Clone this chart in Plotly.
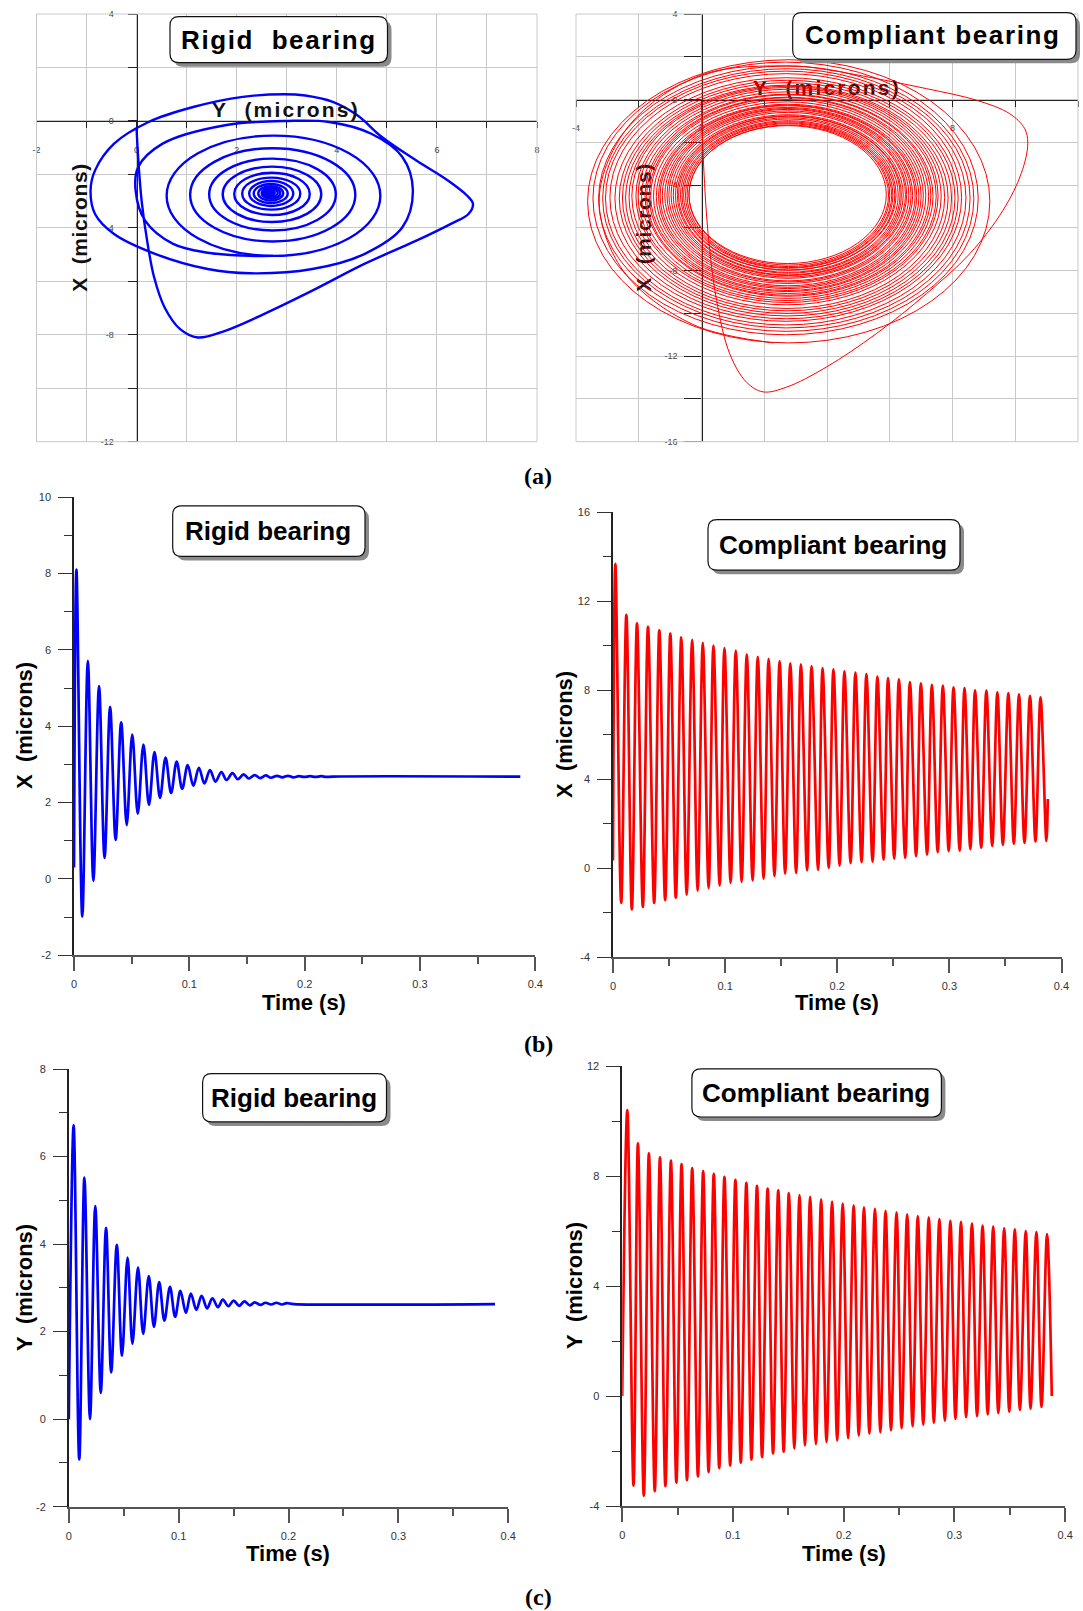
import plotly.graph_objects as go

W, H = 1083, 1611

# ------------------------------------------------------------------
# DATA
# ------------------------------------------------------------------
# Rigid bearing, X(t): start, peaks, troughs, end   (time s, microns)
rx_start = (0.0, 0.3)
rx_peak_t = [0.0021, 0.0120, 0.0217, 0.0313, 0.0409, 0.0505, 0.0602, 0.0698, 0.0794, 0.0890,
             0.0986, 0.1083, 0.1179, 0.1278, 0.1374, 0.1471, 0.1567, 0.1663, 0.1759, 0.1856,
             0.1952, 0.2048, 0.2144, 0.2241]
rx_peak = [8.1, 5.71, 5.05, 4.51, 4.1, 3.78, 3.52, 3.32, 3.18, 3.07,
           2.98, 2.91, 2.85, 2.8, 2.77, 2.74, 2.72, 2.71, 2.70, 2.70,
           2.69, 2.69, 2.69, 2.68]
rx_trough_t = [0.0072, 0.0168, 0.0265, 0.0361, 0.0457, 0.0553, 0.0650, 0.0746, 0.0842, 0.0938,
               0.1035, 0.1131, 0.1227, 0.1323, 0.1420, 0.1516, 0.1612, 0.1708, 0.1805, 0.1901,
               0.1997, 0.2093, 0.2190]
rx_trough = [-0.99, -0.05, 0.55, 1.02, 1.41, 1.71, 1.94, 2.12, 2.25, 2.36,
             2.44, 2.5, 2.55, 2.59, 2.61, 2.63, 2.64, 2.65, 2.66, 2.66,
             2.67, 2.67, 2.67]
rx_end = (0.387, 2.68)

# Rigid bearing, Y(t)
ry_start = (0.0, 0.0)
ry_peak_t = [0.0044, 0.0142, 0.0241, 0.0339, 0.0437, 0.0535, 0.0630, 0.0728, 0.0823, 0.0921,
             0.1016, 0.1111, 0.1209, 0.1307, 0.1402, 0.1500, 0.1598, 0.1693, 0.1790, 0.1889,
             0.1984]
ry_peak = [6.71, 5.52, 4.87, 4.37, 3.98, 3.69, 3.46, 3.27, 3.13, 3.02,
           2.93, 2.87, 2.82, 2.76, 2.73, 2.71, 2.69, 2.67, 2.66, 2.66,
           2.65]
ry_trough_t = [0.0095, 0.0193, 0.0291, 0.0386, 0.0484, 0.0579, 0.0677, 0.0775, 0.0870, 0.0968,
               0.1066, 0.1161, 0.1259, 0.1358, 0.1453, 0.1551, 0.1649, 0.1744, 0.1842, 0.1940]
ry_trough = [-0.92, 0.0, 0.6, 1.07, 1.45, 1.72, 1.95, 2.11, 2.25, 2.34,
             2.43, 2.5, 2.53, 2.56, 2.58, 2.59, 2.6, 2.61, 2.62, 2.62]
ry_steady = (0.205, 2.63)
ry_end = (0.388, 2.63)

# Compliant bearing, X(t)
cx_start = (0.0, 0.34)
cx_peak_t = [0.0021, 0.0119, 0.0214, 0.0312, 0.0413, 0.0511, 0.0609, 0.0706, 0.0801, 0.0896,
             0.0994, 0.1095, 0.1193, 0.1291, 0.1388, 0.1486, 0.1581, 0.1676, 0.1771, 0.1869,
             0.1966, 0.2064, 0.2162, 0.2260, 0.2358, 0.2453, 0.2550, 0.2648, 0.2746, 0.2844,
             0.2942, 0.3037, 0.3135, 0.3229, 0.3330, 0.3428, 0.3526, 0.3621, 0.3719, 0.3813]
cx_peak = [13.67, 11.38, 11.0, 10.84, 10.68, 10.54, 10.37, 10.25, 10.12, 10.0,
           9.88, 9.77, 9.6, 9.49, 9.4, 9.3, 9.2, 9.15, 9.07, 8.98,
           8.93, 8.84, 8.78, 8.71, 8.6, 8.53, 8.48, 8.36, 8.3, 8.23,
           8.2, 8.12, 8.08, 7.98, 7.97, 7.89, 7.86, 7.81, 7.74, 7.67]
cx_trough_t = [0.0073, 0.0168, 0.0266, 0.0367, 0.0465, 0.0560, 0.0657, 0.0755, 0.0853, 0.0951,
               0.1049, 0.1147, 0.1245, 0.1343, 0.1440, 0.1535, 0.1633, 0.1731, 0.1829, 0.1924,
               0.2021, 0.2119, 0.2217, 0.2315, 0.2413, 0.2508, 0.2606, 0.2703, 0.2801, 0.2896,
               0.2994, 0.3092, 0.3187, 0.3284, 0.3382, 0.3477, 0.3575, 0.3670, 0.3768, 0.3865]
cx_trough = [-1.57, -1.86, -1.75, -1.57, -1.44, -1.33, -1.21, -1.02, -0.9, -0.79,
             -0.67, -0.62, -0.56, -0.48, -0.36, -0.25, -0.22, -0.11, -0.08, 0.0,
             0.11, 0.22, 0.26, 0.29, 0.37, 0.42, 0.46, 0.53, 0.6, 0.71,
             0.76, 0.78, 0.85, 0.91, 0.99, 1.04, 1.09, 1.13, 1.19, 1.22]
cx_end = (0.3878, 3.1)

# Compliant bearing, Y(t)
cy_start = (0.0, 0.0)
cy_peak_t = [0.0046, 0.0142, 0.0241, 0.0341, 0.0440, 0.0536, 0.0632, 0.0731, 0.0827, 0.0923,
             0.1022, 0.1121, 0.1217, 0.1313, 0.1409, 0.1505, 0.1601, 0.1697, 0.1796, 0.1895,
             0.1991, 0.2090, 0.2183, 0.2282, 0.2378, 0.2477, 0.2573, 0.2669, 0.2768, 0.2864,
             0.2963, 0.3059, 0.3158, 0.3254, 0.3350, 0.3449, 0.3545, 0.3644, 0.3740, 0.3836]
cy_peak = [10.4, 9.19, 8.82, 8.68, 8.56, 8.43, 8.29, 8.18, 8.08, 7.97,
           7.86, 7.75, 7.64, 7.54, 7.48, 7.38, 7.31, 7.24, 7.15, 7.07,
           7.0, 6.93, 6.86, 6.81, 6.73, 6.68, 6.61, 6.54, 6.5, 6.43,
           6.37, 6.33, 6.27, 6.2, 6.16, 6.1, 6.06, 6.0, 5.96, 5.89]
cy_trough_t = [0.0102, 0.0195, 0.0294, 0.0390, 0.0489, 0.0585, 0.0684, 0.0780, 0.0876, 0.0975,
               0.1071, 0.1167, 0.1263, 0.1362, 0.1458, 0.1554, 0.1650, 0.1749, 0.1845, 0.1941,
               0.2040, 0.2136, 0.2232, 0.2331, 0.2427, 0.2523, 0.2622, 0.2718, 0.2814, 0.2913,
               0.3009, 0.3105, 0.3204, 0.3300, 0.3396, 0.3495, 0.3591, 0.3687, 0.3786]
cy_trough = [-3.26, -3.63, -3.46, -3.28, -3.15, -3.06, -2.92, -2.76, -2.62, -2.52,
             -2.42, -2.31, -2.22, -2.09, -2.02, -1.91, -1.8, -1.75, -1.67, -1.62,
             -1.53, -1.44, -1.37, -1.32, -1.25, -1.17, -1.1, -1.04, -0.97, -0.9,
             -0.83, -0.77, -0.73, -0.67, -0.62, -0.57, -0.51, -0.46, -0.4]
cy_end = (0.3879, 0.0)

# Orbit (a): opening loops  (Y, X as plotted)
orbit_r_open_y = [0.0, 0.03, 0.1, 0.21, 0.35, 0.56, 0.87, 1.22, 1.77, 2.47, 3.51, 4.55, 5.59, 6.28,
                  6.63, 6.72, 6.6, 6.22, 5.59, 4.9, 4.41, 3.92, 3.37, 2.95, 2.12, 1.15, 0.24, -0.45,
                  -0.83, -0.92, -0.83, -0.45, 0.38, 1.42, 2.26, 3.51, 4.55, 5.31, 5.52, 5.31, 4.69,
                  3.85, 3.02, 1.77, 0.52, 0.03, -0.02, 0.17, 0.73, 1.42, 2.12, 2.73]
orbit_r_open_x = [-0.29, -1.35, -2.98, -4.48, -5.85, -6.98, -7.79, -8.1, -7.85, -7.29, -6.35, -5.35,
                  -4.48, -3.85, -3.48, -3.1, -2.79, -2.23, -1.48, -0.6, 0.21, 0.71, 0.95, 1.0, 0.9,
                  0.53, -0.04, -0.85, -1.85, -2.6, -3.48, -4.23, -4.98, -5.54, -5.7, -5.54, -4.98,
                  -3.98, -2.6, -1.35, -0.48, -0.04, 0.0, -0.16, -0.85, -1.73, -2.6, -3.73, -4.6,
                  -4.93, -5.04, -5.05]

orbit_c_open_y = [0.0, 0.07, 0.21, 0.48, 0.9, 1.43, 1.96, 2.71, 3.98, 5.57, 7.17, 8.55, 9.61,
                  10.19, 10.4, 10.3, 9.82, 8.76, 7.17, 5.57, 3.98, 2.85, 0.0, -2.3, -3.26, -2.5,
                  -0.3, 2.3]
orbit_c_open_x = [-0.34, -3.15, -6.27, -9.39, -11.89, -13.21, -13.67, -13.45, -12.51, -10.95,
                  -9.08, -7.21, -5.18, -3.46, -2.06, -1.36, -0.66, -0.03, 0.51, 0.98, 1.4, 1.57,
                  1.15, -1.2, -4.6, -8.0, -10.5, -11.38]

# tick labels
aL_xt = [-2, 0, 2, 4, 6, 8];        aL_xl = ["-2", "0", "2", "4", "6", "8"]
aL_yt = [4, 0, -4, -8, -12];        aL_yl = ["4", "0", "-4", "-8", "-12"]
aR_xt = [-4, 0, 4, 8, 12];          aR_xl = ["-4", "0", "4", "8", "12"]
aR_yt = [4, 0, -4, -8, -12, -16];   aR_yl = ["4", "0", "-4", "-8", "-12", "-16"]
t_ticks = [0, 0.1, 0.2, 0.3, 0.4];  t_labels = ["0", "0.1", "0.2", "0.3", "0.4"]
bL_yt = [10, 8, 6, 4, 2, 0, -2];    bL_yl = ["10", "8", "6", "4", "2", "0", "-2"]
bR_yt = [16, 12, 8, 4, 0, -4];      bR_yl = ["16", "12", "8", "4", "0", "-4"]
cL_yt = [8, 6, 4, 2, 0, -2];        cL_yl = ["8", "6", "4", "2", "0", "-2"]
cR_yt = [12, 8, 4, 0, -4];          cR_yl = ["12", "8", "4", "0", "-4"]

# ------------------------------------------------------------------
# BUILD
# ------------------------------------------------------------------
def series(start, pk_t, pk_v, tr_t, tr_v, end, extra=()):
    pts = [start] + list(zip(pk_t, pk_v)) + list(zip(tr_t, tr_v)) + list(extra) + [end]
    pts.sort(key=lambda p: p[0])
    return [p[0] for p in pts], [p[1] for p in pts]


BLUE, RED = "#0000ff", "#ff0000"
fig = go.Figure()

fig.add_trace(go.Scatter(x=orbit_r_open_y, y=orbit_r_open_x, mode="lines", xaxis="x", yaxis="y",
                         line=dict(color=BLUE, width=2.4, shape="spline", smoothing=1.0)))
fig.add_trace(go.Scatter(x=orbit_c_open_y, y=orbit_c_open_x, mode="lines", xaxis="x2", yaxis="y2",
                         line=dict(color=RED, width=1.0, shape="spline", smoothing=1.0)))

t, v = series(rx_start, rx_peak_t, rx_peak, rx_trough_t, rx_trough, rx_end)
fig.add_trace(go.Scatter(x=t, y=v, mode="lines", xaxis="x3", yaxis="y3",
                         line=dict(color=BLUE, width=2.7, shape="spline", smoothing=1.0)))
t, v = series(cx_start, cx_peak_t, cx_peak, cx_trough_t, cx_trough, cx_end)
fig.add_trace(go.Scatter(x=t, y=v, mode="lines", xaxis="x4", yaxis="y4",
                         line=dict(color=RED, width=2.7, shape="spline", smoothing=1.0)))
t, v = series(ry_start, ry_peak_t, ry_peak, ry_trough_t, ry_trough, ry_end, extra=[ry_steady])
fig.add_trace(go.Scatter(x=t, y=v, mode="lines", xaxis="x5", yaxis="y5",
                         line=dict(color=BLUE, width=2.7, shape="spline", smoothing=1.0)))
t, v = series(cy_start, cy_peak_t, cy_peak, cy_trough_t, cy_trough, cy_end)
fig.add_trace(go.Scatter(x=t, y=v, mode="lines", xaxis="x6", yaxis="y6",
                         line=dict(color=RED, width=2.7, shape="spline", smoothing=1.0)))

# panel boxes in pixels: (x0, x1, y0, y1)
P = {
    "aL": (36.5, 537.0, 14.0, 441.7),
    "aR": (576.0, 1078.0, 14.0, 441.7),
    "bL": (74.0, 535.3, 497.2, 955.2),
    "bR": (613.0, 1061.5, 512.0, 957.0),
    "cL": (68.8, 508.2, 1069.0, 1506.7),
    "cR": (622.2, 1065.2, 1066.0, 1506.0),
}


def xdom(k):
    return [P[k][0] / W, P[k][1] / W]


def ydom(k):
    return [1 - P[k][3] / H, 1 - P[k][2] / H]


GRID = "#c9c9c9"
AX = "#222222"
TICKF = dict(family="Liberation Sans, Arial", size=9, color="#444")
TICKF2 = dict(family="Liberation Sans, Arial", size=11, color="#333")


def orbit_axes(key, xr, yr, xt, xl, yt, yl, xminor, yminor, ylen, xstand, ystand):
    x0, x1, y0, y1 = P[key]
    zy = y0 + (yr[1] - 0) / (yr[1] - yr[0]) * (y1 - y0)
    zx = x0 + (0 - xr[0]) / (xr[1] - xr[0]) * (x1 - x0)
    xa = dict(domain=xdom(key), range=xr, anchor="free", position=1 - zy / H, automargin=False,
              showline=True, linecolor=AX, linewidth=1.2, zeroline=False,
              tickmode="array", tickvals=xt, ticktext=xl, ticks="outside", ticklen=6,
              tickwidth=1, tickcolor=AX, tickfont=TICKF, ticklabelstandoff=xstand,
              showgrid=True, gridcolor=GRID, gridwidth=1, layer="below traces",
              minor=dict(tickmode="linear", tick0=xr[0], dtick=xminor, ticks="outside",
                         ticklen=6, tickcolor=AX, showgrid=True, gridcolor=GRID, gridwidth=1),
              fixedrange=True)
    ya = dict(domain=ydom(key), range=yr, anchor="free", position=zx / W, automargin=False,
              showline=True, linecolor=AX, linewidth=1.2, zeroline=False,
              tickmode="array", tickvals=yt, ticktext=yl, ticks="outside", ticklen=ylen,
              tickwidth=1, tickcolor=AX, tickfont=TICKF, ticklabelstandoff=ystand,
              showgrid=True, gridcolor=GRID, gridwidth=1, layer="below traces",
              minor=dict(tickmode="linear", tick0=yr[0], dtick=yminor, ticks="outside",
                         ticklen=ylen, tickcolor=AX, showgrid=True, gridcolor=GRID, gridwidth=1),
              fixedrange=True)
    return xa, ya


def ts_axes(key, n, yr, yt, yl, yminor):
    xa = dict(domain=xdom(key), range=[0, 0.4], anchor="y%d" % n, automargin=False,
              showline=True, linecolor="#555", linewidth=1.8, zeroline=False, showgrid=False,
              tickmode="array", tickvals=t_ticks, ticktext=t_labels, ticks="outside",
              ticklen=14, tickwidth=1.5, tickcolor="#555", tickfont=TICKF2, ticklabelstandoff=4,
              minor=dict(tickmode="linear", tick0=0, dtick=0.05, ticks="outside", ticklen=7,
                         tickwidth=1.5, tickcolor="#555", showgrid=False),
              layer="below traces", fixedrange=True)
    ya = dict(domain=ydom(key), range=yr, anchor="x%d" % n, automargin=False,
              showline=True, linecolor="#222", linewidth=1.5, zeroline=False, showgrid=False,
              tickmode="array", tickvals=yt, ticktext=yl, ticks="outside",
              ticklen=14, tickwidth=1.2, tickcolor="#333", tickfont=TICKF2, ticklabelstandoff=5,
              minor=dict(tickmode="linear", tick0=yr[0], dtick=yminor, ticks="outside", ticklen=8,
                         tickwidth=1.2, tickcolor="#333", showgrid=False),
              layer="below traces", fixedrange=True)
    return xa, ya


x1a, y1a = orbit_axes("aL", [-2, 8], [-12, 4], aL_xt, aL_xl, aL_yt, aL_yl, 1, 2, 9, 14, 12)
x2a, y2a = orbit_axes("aR", [-4, 12], [-16, 4], aR_xt, aR_xl, aR_yt, aR_yl, 2, 2, 17, 14, 5)
x3a, y3a = ts_axes("bL", 3, [-2, 10], bL_yt, bL_yl, 1)
x4a, y4a = ts_axes("bR", 4, [-4, 16], bR_yt, bR_yl, 2)
x5a, y5a = ts_axes("cL", 5, [-2, 8], cL_yt, cL_yl, 1)
x6a, y6a = ts_axes("cR", 6, [-4, 12], cR_yt, cR_yl, 2)

shapes = []
annotations = []

# outer light frame of the orbit panels
for key in ("aL", "aR"):
    x0, x1, y0, y1 = P[key]
    shapes.append(dict(type="rect", xref="paper", yref="paper", x0=x0 / W, x1=x1 / W,
                       y0=1 - y1 / H, y1=1 - y0 / H, line=dict(color=GRID, width=1),
                       fillcolor="rgba(0,0,0,0)", layer="above"))


def dom_rect(key, cx, cy, w, h):
    x0, x1, y0, y1 = P[key]
    return ((cx - w / 2 - x0) / (x1 - x0), (cx + w / 2 - x0) / (x1 - x0),
            1 - (cy + h / 2 - y0) / (y1 - y0), 1 - (cy - h / 2 - y0) / (y1 - y0))


# axis titles of the orbit panels (drawn before the orbit rings, so the rings cover them)
LBL = dict(family="Liberation Sans, Arial", size=21, color="#111")
for key, ax, cx, cy, w, h, txt, ang in (
        ("aL", ("x", "y"), 286, 107, 160, 26, '<b><span style="letter-spacing:2.2px">Y\u00a0\u00a0(microns)</span></b>', 0),
        ("aL", ("x", "y"), 77, 227.5, 26, 140, '<b><span style="letter-spacing:0.6px">X\u00a0\u00a0(microns)</span></b>', -90),
        ("aR", ("x2", "y2"), 827, 85, 160, 26, '<b><span style="letter-spacing:2.2px">Y\u00a0\u00a0(microns)</span></b>', 0),
        ("aR", ("x2", "y2"), 641, 227.5, 26, 140, '<b><span style="letter-spacing:0.6px">X\u00a0\u00a0(microns)</span></b>', -90)):
    a0, a1, b0, b1 = dom_rect(key, cx, cy, w, h)
    shapes.append(dict(type="rect", xref=ax[0] + " domain", yref=ax[1] + " domain",
                       x0=a0, x1=a1, y0=b0, y1=b1, line=dict(width=0),
                       fillcolor="rgba(0,0,0,0)", layer="above",
                       label=dict(text=txt, font=LBL, textangle=ang, textposition="middle center")))

# orbit rings: each later loop drawn through its four extremes (left/right = Y trough/peak,
# bottom/top = X peak/trough, X plotted downward as in the original)
for k in range(2, min(len(ry_trough), len(ry_peak), len(rx_peak), len(rx_trough))):
    shapes.append(dict(type="circle", xref="x", yref="y",
                       x0=ry_trough[k], x1=ry_peak[k], y0=-rx_peak[k], y1=-rx_trough[k],
                       line=dict(color=BLUE, width=2.4), fillcolor="rgba(0,0,0,0)", layer="above"))
for k in range(1, len(cx_peak)):
    left = cy_trough[k] if k < len(cy_trough) else cy_trough[-1]
    shapes.append(dict(type="circle", xref="x2", yref="y2",
                       x0=left, x1=cy_peak[k], y0=-cx_peak[k], y1=-cx_trough[k],
                       line=dict(color=RED, width=1.0), fillcolor="rgba(0,0,0,0)", layer="above"))


def rrect_path(x0, y0, x1, y1, r):
    def X(v):
        return "%.6f" % (v / W)

    def Y(v):
        return "%.6f" % (1 - v / H)
    return ("M %s,%s L %s,%s Q %s,%s %s,%s L %s,%s Q %s,%s %s,%s L %s,%s Q %s,%s %s,%s "
            "L %s,%s Q %s,%s %s,%s Z" % (
                X(x0 + r), Y(y0), X(x1 - r), Y(y0), X(x1), Y(y0), X(x1), Y(y0 + r),
                X(x1), Y(y1 - r), X(x1), Y(y1), X(x1 - r), Y(y1),
                X(x0 + r), Y(y1), X(x0), Y(y1), X(x0), Y(y1 - r),
                X(x0), Y(y0 + r), X(x0), Y(y0), X(x0 + r), Y(y0)))


TITLE_F = dict(family="Liberation Sans, Arial", size=26, color="#000")
boxes = [
    ((170, 16.7, 387.5, 62.7), (279, 40), '<b><span style="letter-spacing:1.6px">Rigid\u00a0\u00a0bearing</span></b>'),
    ((792.7, 12.7, 1076, 59.3), (932, 35), '<b><span style="letter-spacing:1.6px">Compliant bearing</span></b>'),
    ((172.7, 505.8, 365, 556.4), (268, 531), "<b>Rigid bearing</b>"),
    ((708, 519.6, 960, 570.2), (833, 545), "<b>Compliant bearing</b>"),
    ((202.6, 1073.7, 386.5, 1121.9), (294, 1098), "<b>Rigid bearing</b>"),
    ((691.9, 1068.9, 941.4, 1117), (816, 1093), "<b>Compliant bearing</b>"),
]
for (bx0, by0, bx1, by1), (tx, ty), txt in boxes:
    shapes.append(dict(type="path", xref="paper", yref="paper",
                       path=rrect_path(bx0 + 4, by0 + 4, bx1 + 4, by1 + 4, 9),
                       fillcolor="#8a8a8a", line=dict(width=0), layer="above"))
    shapes.append(dict(type="path", xref="paper", yref="paper",
                       path=rrect_path(bx0, by0, bx1, by1, 9),
                       fillcolor="#ffffff", line=dict(color="#111", width=1.2), layer="above"))
    annotations.append(dict(xref="paper", yref="paper", x=tx / W, y=1 - ty / H, text=txt,
                            showarrow=False, font=TITLE_F, xanchor="center", yanchor="middle"))

AT = dict(family="Liberation Sans, Arial", size=22, color="#000")
for cx, cy, txt, ang in (
        (304, 1003, "<b>Time (s)</b>", 0),
        (837, 1003, "<b>Time (s)</b>", 0),
        (288, 1553, "<b>Time (s)</b>", 0),
        (844, 1553, "<b>Time (s)</b>", 0),
        (24, 726, "<b>X\u00a0\u00a0(microns)</b>", -90),
        (564, 735, "<b>X\u00a0\u00a0(microns)</b>", -90),
        (24, 1288, "<b>Y\u00a0\u00a0(microns)</b>", -90),
        (574, 1286, "<b>Y\u00a0\u00a0(microns)</b>", -90)):
    annotations.append(dict(xref="paper", yref="paper", x=cx / W, y=1 - cy / H, text=txt,
                            showarrow=False, font=AT, textangle=ang,
                            xanchor="center", yanchor="middle"))

PL = dict(family="Liberation Serif, DejaVu Serif", size=24, color="#000")
for cx, cy, txt in ((538, 476, "<b>(a)</b>"), (538, 1044, "<b>(b)</b>"), (538, 1597, "<b>(c)</b>")):
    annotations.append(dict(xref="paper", yref="paper", x=cx / W, y=1 - cy / H, text=txt,
                            showarrow=False, font=PL, xanchor="center", yanchor="middle"))

fig.update_layout(
    width=W, height=H, margin=dict(l=0, r=0, t=0, b=0, pad=0, autoexpand=False), autosize=False,
    paper_bgcolor="white", plot_bgcolor="rgba(0,0,0,0)", showlegend=False,
    font=dict(family="Liberation Sans, Arial", color="#222"),
    xaxis=x1a, yaxis=y1a, xaxis2=x2a, yaxis2=y2a,
    xaxis3=x3a, yaxis3=y3a, xaxis4=x4a, yaxis4=y4a,
    xaxis5=x5a, yaxis5=y5a, xaxis6=x6a, yaxis6=y6a,
    shapes=shapes, annotations=annotations,
)

fig.write_html(
    "out.html",
    config={"responsive": False, "displayModeBar": False},
    post_script=("document.documentElement.style.margin='0';document.body.style.margin='0';"
                 "document.body.style.padding='0';document.documentElement.style.overflow='hidden';"
                 "document.body.style.overflow='hidden';"),
)
